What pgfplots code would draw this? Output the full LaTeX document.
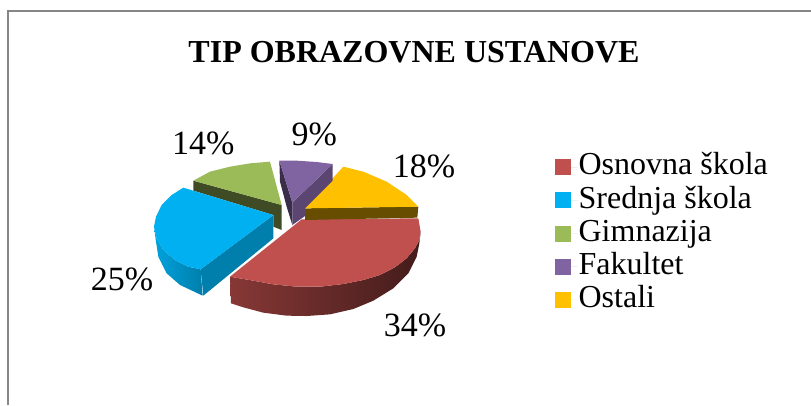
\documentclass[border=0pt]{standalone}
\usepackage{fontspec}
\setmainfont{Liberation Serif}
\usepackage{pgfplots}
\pgfplotsset{compat=1.18}
\definecolor{rT}{HTML}{C0504D}
\definecolor{bT}{HTML}{00B0F0}
\definecolor{gT}{HTML}{9BBB59}
\definecolor{pT}{HTML}{8064A2}
\definecolor{yT}{HTML}{FFC000}
\definecolor{frame}{HTML}{868686}
\begin{document}
\begin{tikzpicture}
\path[use as bounding box] (0,0) rectangle (608.25pt,303.75pt);
\begin{axis}[
  at={(0,0)}, anchor=south west,
  scale only axis, width=608.25pt, height=303.75pt,
  xmin=-390, xmax=2043, ymin=-330, ymax=885, y dir=reverse,
  hide axis, clip=false,
  legend style={at={(axis cs:1275,122)}, anchor=north west, draw=none, fill=none,
    font=\fontsize{24}{25}\selectfont, row sep=0.35pt, inner sep=0pt,
    nodes={inner sep=1pt, text height=17pt, text depth=5.5pt}},
  legend cell align=left,
  legend image code/.code={\path (0pt,0pt) -- (16.5pt,0pt);\fill[#1] (0pt,-6pt) rectangle (12pt,6pt);},
  every axis plot/.append style={forget plot, draw=none},
]
% frame
\addplot[draw=frame, line width=1.5pt] coordinates {(-366,885) (-366,-297) (2043,-297)};
% Osnovna skola: side, top
\addplot[left color=rT!70!black, middle color=rT!45!black, right color=rT!35!black] coordinates {(300,500) (370,512) (430,523) (500,530) (570,530) (640,522) (700,510) (750,495) (795,472) (830,445) (855,415) (868,390) (872,365) (868,400) (860,440) (835,490) (790,535) (730,572) (670,597) (600,613) (530,618) (470,617) (400,608) (340,592) (303,580)} --cycle;
\addplot[fill=rT] coordinates {(515,328) (865,325) (872,365) (868,390) (855,415) (830,445) (795,472) (750,495) (700,510) (640,522) (570,530) (500,530) (430,523) (370,512) (300,500)} --cycle;
% Ostali
\addplot[fill=yT!40!black] coordinates {(525,295) (865,290) (862,323) (525,330)} --cycle;
\addplot[fill=yT] coordinates {(640,170) (700,185) (770,215) (830,255) (865,290) (525,295)} --cycle;
% Fakultet
\addplot[fill=pT!45!black] coordinates {(448,152) (487,278) (487,345) (470,290) (450,215)} --cycle;
\addplot[fill=pT!70!black] coordinates {(608,162) (487,278) (487,345) (525,318) (525,295) (608,212)} --cycle;
\addplot[fill=pT] coordinates {(448,152) (500,152) (560,156) (608,162) (487,278)} --cycle;
% Gimnazija
\addplot[fill=gT!40!black] coordinates {(190,212) (455,285) (455,360) (430,350) (430,315) (190,242)} --cycle;
\addplot[fill=gT] coordinates {(190,212) (240,185) (300,170) (360,160) (420,155) (455,285)} --cycle;
% Srednja skola
\addplot[left color=bT!92!black, right color=bT!72!black] coordinates {(72,350) (80,385) (100,420) (135,450) (175,470) (212,478) (218,557) (150,525) (110,490) (85,440) (78,395)} --cycle;
\addplot[fill=bT!72!black] coordinates {(212,478) (430,315) (430,385) (220,557)} --cycle;
\addplot[fill=bT] coordinates {(430,315) (160,233) (125,255) (95,285) (78,320) (72,350) (80,385) (100,420) (135,450) (175,470) (212,478)} --cycle;
% legend
\addlegendimage{fill=rT}\addlegendentry{Osnovna škola}
\addlegendimage{fill=bT}\addlegendentry{Srednja škola}
\addlegendimage{fill=gT}\addlegendentry{Gimnazija}
\addlegendimage{fill=pT}\addlegendentry{Fakultet}
\addlegendimage{fill=yT}\addlegendentry{Ostali}
% texts
\node[font=\bfseries\fontsize{24}{28}\selectfont] at (axis cs:852,-174) {TIP OBRAZOVNE USTANOVE};
\node[font=\fontsize{25.5}{30}\selectfont] at (axis cs:220,100) {14\%};
\node[font=\fontsize{25.5}{30}\selectfont] at (axis cs:553,72) {9\%};
\node[font=\fontsize{25.5}{30}\selectfont] at (axis cs:882,170) {18\%};
\node[font=\fontsize{25.5}{30}\selectfont] at (axis cs:-24,507) {25\%};
\node[font=\fontsize{25.5}{30}\selectfont] at (axis cs:855,645) {34\%};
\end{axis}
\end{tikzpicture}
\end{document}
